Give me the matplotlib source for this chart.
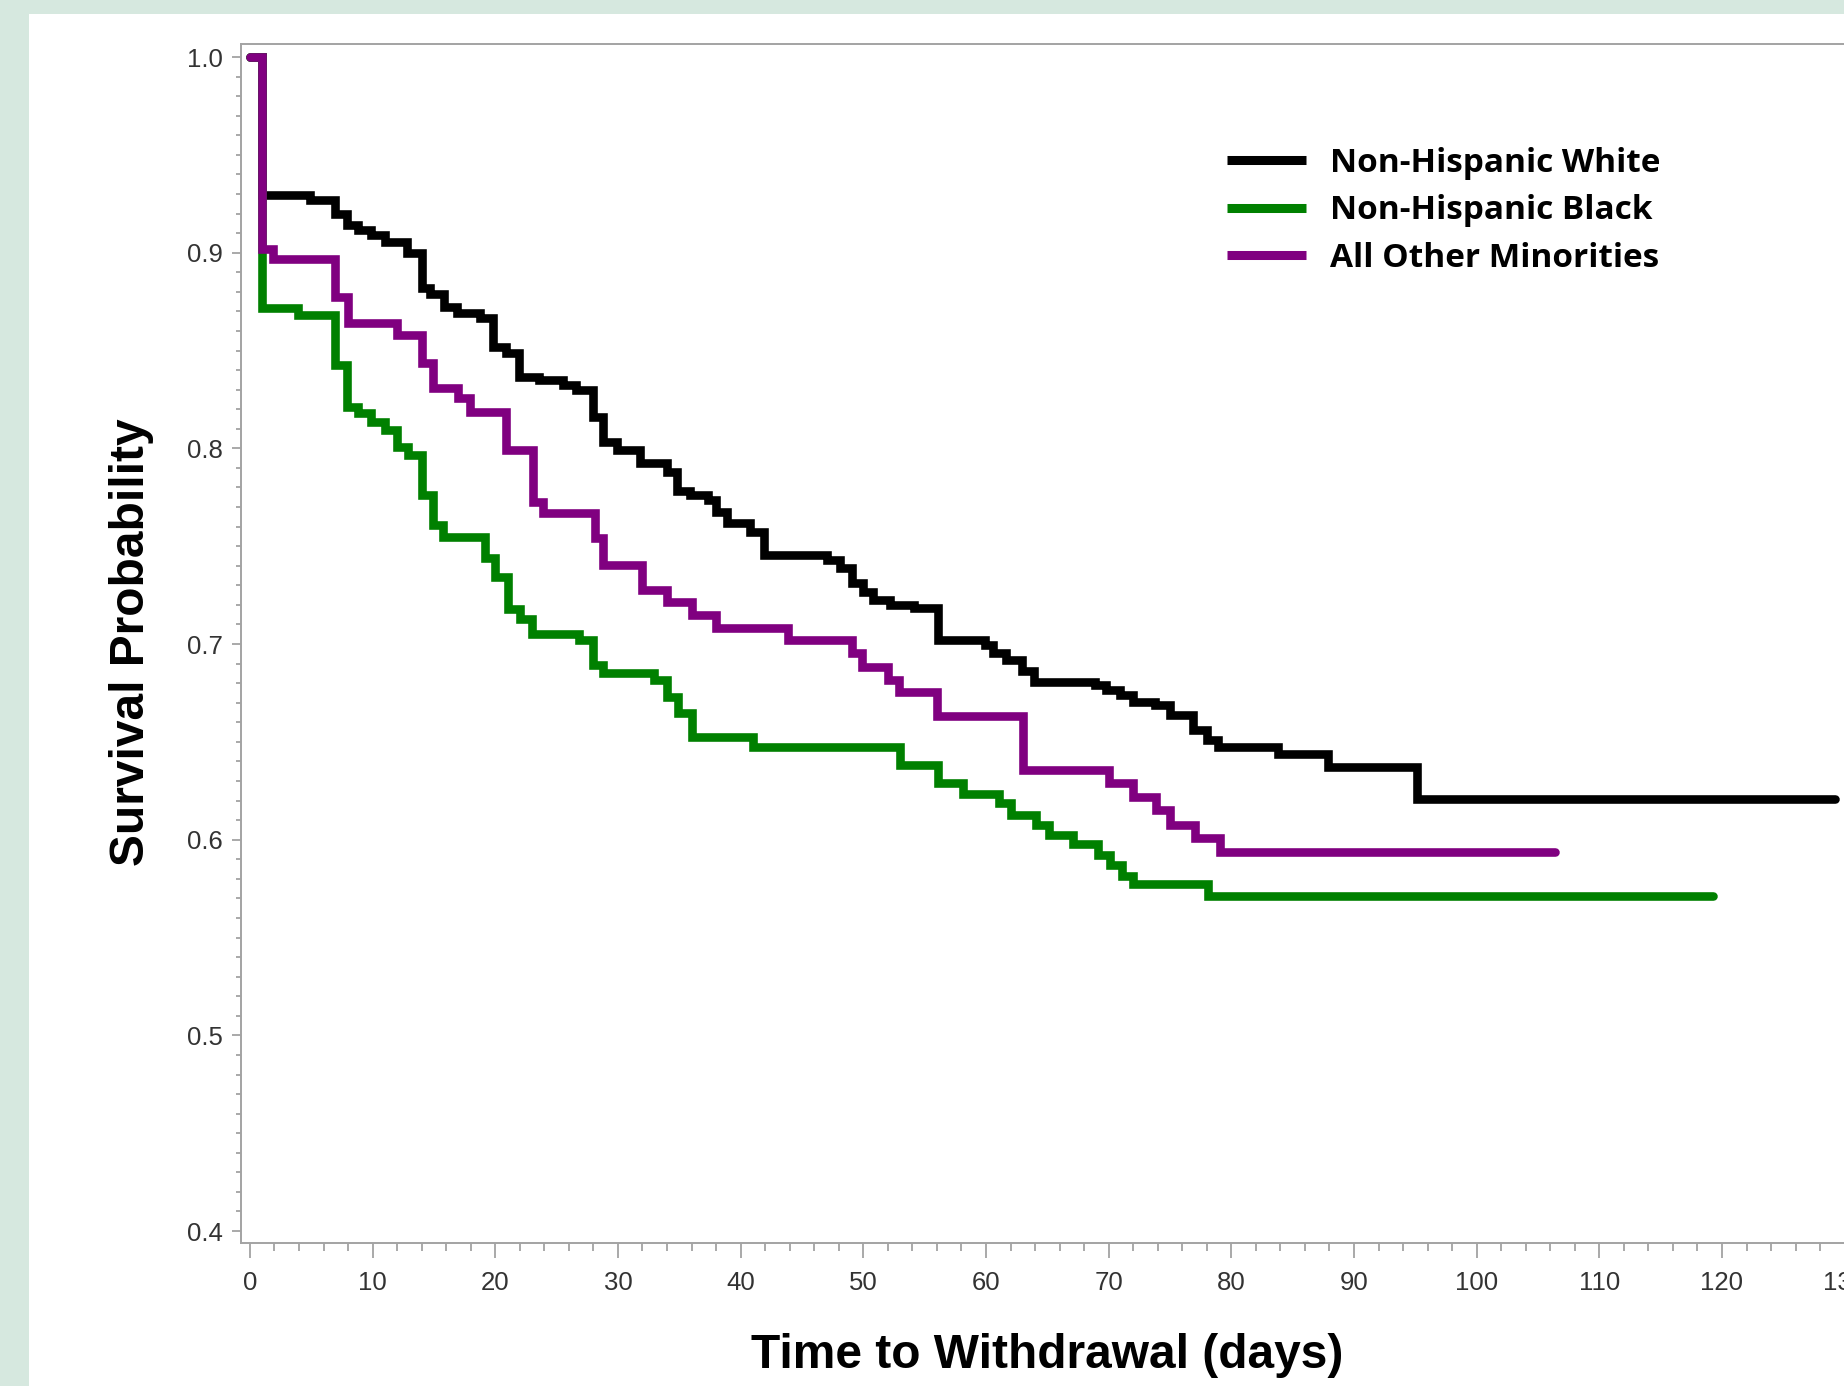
import matplotlib
matplotlib.use("Agg")
import matplotlib.pyplot as plt
from matplotlib.patches import Rectangle
from matplotlib.ticker import MultipleLocator, FormatStrFormatter
from matplotlib.font_manager import FontProperties

# ---------------- data ----------------
series_names = ["Non-Hispanic White", "Non-Hispanic Black", "All Other Minorities"]
series_colors = ["#000000", "#008000", "#800080"]

white_days = [0, 1, 4.9, 6.9, 7.9, 8.8, 9.9, 11.0, 12.8, 14.0, 14.7, 15.8, 16.9, 18.75,
              19.8, 20.9, 21.9, 23.6, 25.5, 26.6, 28.0, 28.8, 29.9, 31.8, 34.0, 34.8,
              35.9, 37.3, 38.0, 38.9, 40.8, 41.9, 47.0, 48.1, 49.1, 50.0, 50.8, 52.2,
              54.1, 56.1, 59.9, 60.6, 61.6, 62.9, 63.9, 68.9, 69.8, 70.9, 72.0, 73.8,
              75.0, 76.9, 78.0, 78.9, 83.8, 87.9, 95.1]
white_surv = [1.0, 0.9295, 0.927, 0.920, 0.914, 0.9116, 0.909, 0.9056, 0.8997, 0.8818,
              0.879, 0.8724, 0.869, 0.8666, 0.852, 0.8487, 0.8366, 0.835, 0.8324, 0.8298,
              0.8162, 0.8034, 0.799, 0.7924, 0.788, 0.778, 0.776, 0.7736, 0.7676, 0.7617,
              0.7574, 0.7455, 0.743, 0.739, 0.731, 0.7267, 0.7225, 0.720, 0.7182, 0.702,
              0.6995, 0.6953, 0.692, 0.686, 0.6807, 0.679, 0.6765, 0.674, 0.6705, 0.669,
              0.6637, 0.656, 0.651, 0.6475, 0.644, 0.6373, 0.621]
white_end = 129.2

black_days = [0, 1, 3.9, 6.9, 7.9, 8.8, 9.9, 11.0, 12.0, 12.9, 14.0, 14.9, 15.7, 19.2,
              20.0, 21.0, 22.0, 23.0, 26.8, 28.0, 28.8, 32.9, 34.0, 34.9, 36.0, 41.0,
              53.0, 56.1, 58.1, 61.1, 62.0, 64.1, 65.1, 67.1, 69.1, 70.1, 71.1, 72.0, 78.1]
black_surv = [1.0, 0.8716, 0.868, 0.8426, 0.8213, 0.818, 0.8136, 0.8094, 0.8008, 0.7966,
              0.776, 0.7608, 0.7548, 0.7438, 0.7344, 0.718, 0.713, 0.7051, 0.702, 0.6893,
              0.685, 0.6816, 0.673, 0.6646, 0.6525, 0.6475, 0.6382, 0.629, 0.6232, 0.6186,
              0.6126, 0.6075, 0.6024, 0.5978, 0.592, 0.587, 0.5815, 0.5774, 0.5714]
black_end = 119.3

other_days = [0, 1, 1.9, 6.9, 8.0, 12.0, 14.0, 14.9, 17.0, 17.9, 20.9, 23.1, 23.9, 28.1,
              28.8, 32.0, 34.0, 36.0, 38.0, 43.9, 49.1, 49.9, 52.0, 52.9, 56.0, 63.0,
              70.0, 72.0, 73.9, 75.0, 77.0, 79.1]
other_surv = [1.0, 0.902, 0.897, 0.8775, 0.864, 0.858, 0.8435, 0.831, 0.8256, 0.8187,
              0.799, 0.7727, 0.7668, 0.754, 0.7404, 0.7276, 0.7216, 0.7148, 0.708, 0.702,
              0.6953, 0.6884, 0.6816, 0.6757, 0.663, 0.6356, 0.6288, 0.622, 0.6152,
              0.6075, 0.6007, 0.5936]
other_end = 106.4

x_ticks = list(range(0, 131, 10))
y_ticks = [0.4, 0.5, 0.6, 0.7, 0.8, 0.9, 1.0]
x_label = "Time to Withdrawal (days)"
y_label = "Survival Probability"

# ---------------- figure ----------------
W, H = 1844, 1386
fig = plt.figure(figsize=(W / 100, H / 100), dpi=100, facecolor="#d6e8df")
panel = Rectangle((29 / W, 0), 1, (H - 14) / H, transform=fig.transFigure,
                  facecolor="white", edgecolor="none", zorder=-5)
fig.add_artist(panel)

ax_left, ax_top, ax_bottom, ax_right = 241, 43.5, 1243, 1906
ax = fig.add_axes([ax_left / W, (H - ax_bottom) / H,
                   (ax_right - ax_left) / W, (ax_bottom - ax_top) / H])
ax.set_zorder(1)
ax.set_facecolor("white")
ax.set_xlim(-0.73, 135)
ax.set_ylim(0.3939, 1.0069)

all_days = [white_days, black_days, other_days]
all_surv = [white_surv, black_surv, other_surv]
all_end = [white_end, black_end, other_end]
handles = []
for d, s, e, c, n in zip(all_days, all_surv, all_end, series_colors, series_names):
    h, = ax.plot(list(d) + [e], list(s) + [s[-1]], drawstyle="steps-post", color=c,
                 lw=6.2, solid_joinstyle="miter", solid_capstyle="round", label=n)
    handles.append(h)

spine_c = "#a3a3a3"
for side in ["left", "bottom", "top"]:
    ax.spines[side].set_color(spine_c)
    ax.spines[side].set_linewidth(1.4)
ax.spines["right"].set_visible(False)

tick_font = FontProperties(family="Liberation Sans", size=18.5)
ax.set_xticks(x_ticks)
ax.set_yticks(y_ticks)
ax.xaxis.set_minor_locator(MultipleLocator(2))
ax.yaxis.set_minor_locator(MultipleLocator(0.01))
ax.yaxis.set_major_formatter(FormatStrFormatter("%.1f"))
ax.tick_params(axis="x", which="major", length=10.8, width=1.3, color=spine_c, pad=9.5,
               labelcolor="#333333")
ax.tick_params(axis="x", which="minor", length=5.8, width=1.3, color=spine_c)
ax.tick_params(axis="y", which="major", length=6.5, width=1.3, color=spine_c, pad=6.5,
               labelcolor="#333333")
ax.tick_params(axis="y", which="minor", length=3.6, width=1.3, color=spine_c)
for lab in ax.get_xticklabels() + ax.get_yticklabels():
    lab.set_fontproperties(tick_font)

label_font = FontProperties(family="Liberation Sans", weight="bold", size=34.5)
fig.text(1047 / W, 1 - 1368 / H, x_label, ha="center", va="baseline",
         fontproperties=label_font, color="black")
fig.text(144 / W, 1 - 642 / H, y_label, ha="center", va="baseline", rotation=90,
         rotation_mode="anchor", fontproperties=label_font, color="black")

leg_font = FontProperties(family="Open Sans", weight="bold", size=24)
leg = ax.legend(handles=handles, labels=series_names, loc="upper left",
                bbox_to_anchor=(1226.5 / W, 1 - 147 / H), bbox_transform=fig.transFigure,
                frameon=False, prop=leg_font, handlelength=2.37, handletextpad=0.74,
                labelspacing=0.43, borderpad=0, borderaxespad=0)
for ln in leg.get_lines():
    ln.set_linewidth(6.5)
    ln.set_solid_capstyle("butt")

fig.savefig("out.png", dpi=100, facecolor=fig.get_facecolor())
